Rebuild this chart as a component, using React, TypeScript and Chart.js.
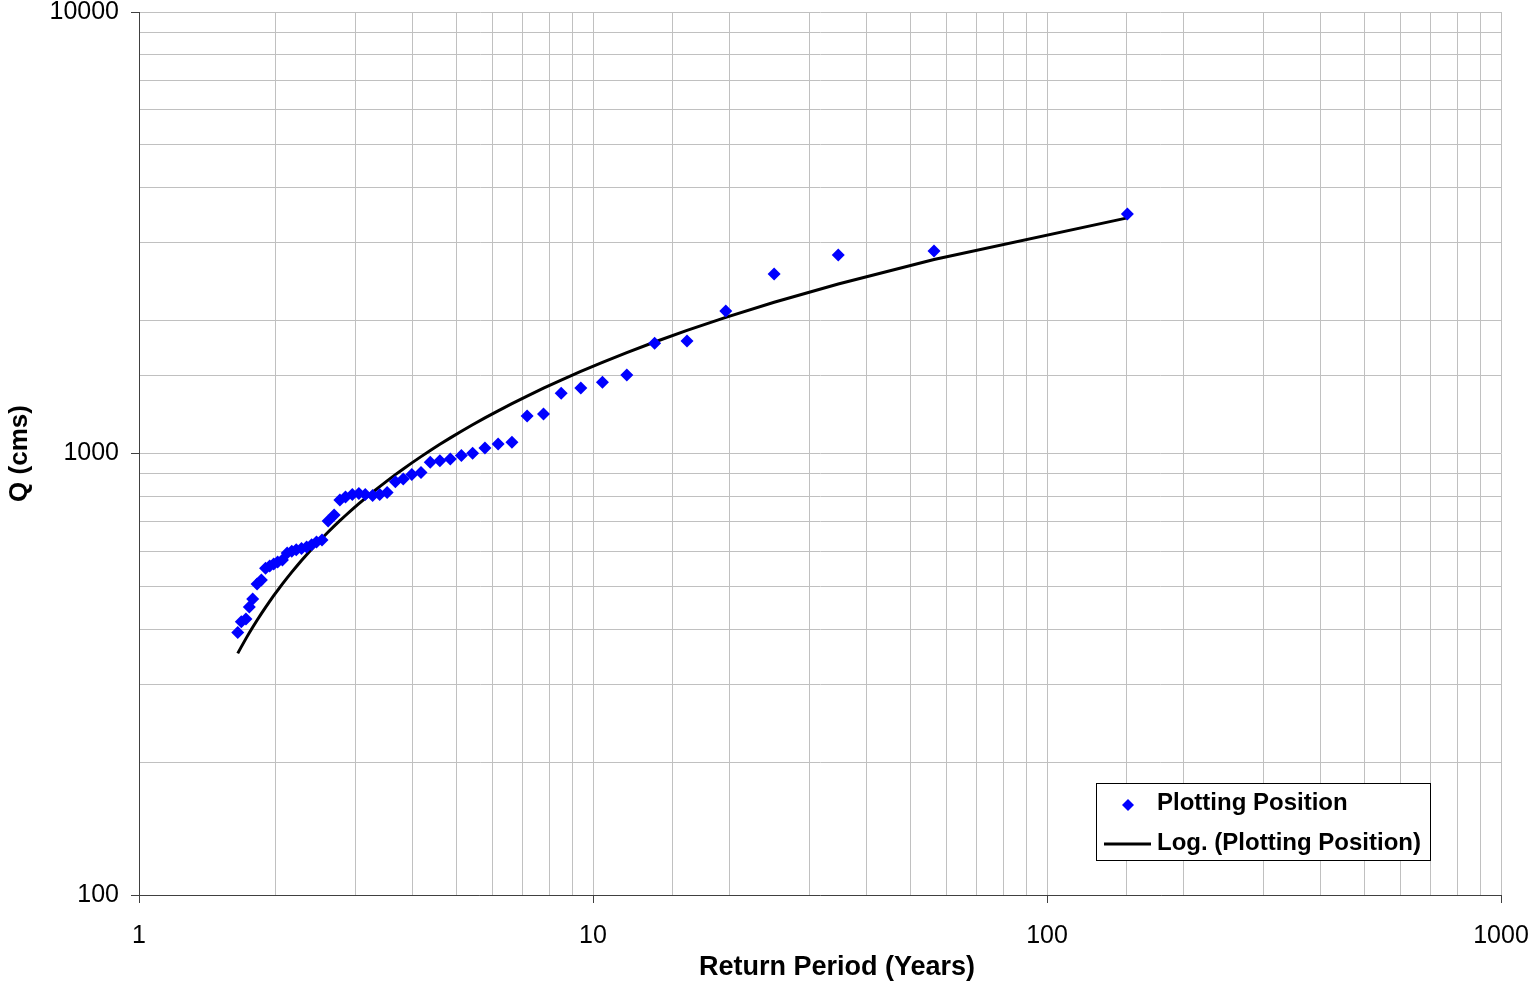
import { useEffect, useRef } from "react";
import { Chart, registerables } from "chart.js";

Chart.register(...registerables);

// Return period (years) of each ranked annual peak, largest flood first
const returnPeriod = [
  150.33, 56.38, 34.69, 25.06, 19.61, 16.11, 13.67, 11.87, 10.49, 9.4,
  8.51, 7.78, 7.16, 6.63, 6.18, 5.78, 5.43, 5.13, 4.85, 4.6,
  4.38, 4.18, 3.99, 3.82, 3.67, 3.52, 3.39, 3.27, 3.15, 3.05,
  2.95, 2.85, 2.77, 2.69, 2.61, 2.53, 2.46, 2.4, 2.34, 2.28,
  2.22, 2.17, 2.12, 2.07, 2.02, 1.98, 1.94, 1.9, 1.86, 1.82,
  1.78, 1.75, 1.72, 1.68, 1.65,
];

// Peak discharge Q (cms) for the same ranks
const discharge = [
  3487, 2875, 2816, 2550, 2103, 1798, 1777, 1506, 1450, 1407,
  1369, 1229, 1216, 1060, 1051, 1029, 1001, 990, 972, 963,
  955, 906, 896, 875, 863, 816, 807, 803, 808, 812,
  807, 797, 785, 726, 703, 637, 630, 621, 614, 609,
  605, 601, 595, 574, 568, 562, 556, 550, 517, 506,
  468, 449, 422, 416, 393,
];

const xTickLabels = [1, 10, 100, 1000];
const yTickLabels = [100, 1000, 10000];

const seriesName = "Plotting Position";
const trendName = "Log. (Plotting Position)";
const xTitle = "Return Period (Years)";
const yTitle = "Q (cms)";

const FONT = '"Liberation Sans", Arial, Helvetica, sans-serif';
const MARKER_BLUE = "#0000FF";
const GRID_GREY = "#c0c0c0";
const AXIS_GREY = "#404040";

// Logarithmic trendline Q = a·ln(T) + b, least-squares fit of the points
function logTrend(xs: number[], ys: number[]) {
  const n = xs.length;
  const lx = xs.map((v) => Math.log(v));
  const mx = lx.reduce((s, v) => s + v, 0) / n;
  const my = ys.reduce((s, v) => s + v, 0) / n;
  let sxy = 0;
  let sxx = 0;
  for (let i = 0; i < n; i++) {
    sxy += (lx[i] - mx) * (ys[i] - my);
    sxx += (lx[i] - mx) * (lx[i] - mx);
  }
  const a = sxy / sxx;
  const b = my - a * mx;
  return [...xs]
    .sort((p, q) => p - q)
    .map((x) => ({ x, y: a * Math.log(x) + b }));
}

const isDecade = (v: number) => Math.abs(Math.log10(v) - Math.round(Math.log10(v))) < 1e-9;

// keep tick labels from pushing the plot area inwards
const fixScaleBox = (s: any, key: "width" | "height", size: number) => {
  s[key] = size;
  s.paddingTop = 0;
  s.paddingBottom = 0;
  s.paddingLeft = 0;
  s.paddingRight = 0;
};

const titlesAndLegend = {
  id: "titlesAndLegend",
  afterDraw(chart: Chart) {
    const ctx = chart.ctx;
    const area = chart.chartArea;
    ctx.save();
    ctx.fillStyle = "#000";
    ctx.textBaseline = "middle";

    // axis titles
    ctx.font = `bold 27px ${FONT}`;
    ctx.textAlign = "center";
    ctx.fillText(xTitle, 837, 968);
    ctx.save();
    ctx.translate(20, (area.top + area.bottom) / 2);
    ctx.rotate(-Math.PI / 2);
    ctx.font = `bold 26px ${FONT}`;
    ctx.fillText(yTitle, 0, 0);
    ctx.restore();

    // legend box
    const bx = 1096;
    const by = 783;
    const bw = 334;
    const bh = 77;
    ctx.fillStyle = "#fff";
    ctx.fillRect(bx, by, bw, bh);
    ctx.strokeStyle = "#000";
    ctx.lineWidth = 1;
    ctx.strokeRect(bx + 0.5, by + 0.5, bw, bh);

    // diamond marker
    const mx = 1128;
    const my = 805;
    const r = 6;
    ctx.fillStyle = MARKER_BLUE;
    ctx.beginPath();
    ctx.moveTo(mx, my - r);
    ctx.lineTo(mx + r, my);
    ctx.lineTo(mx, my + r);
    ctx.lineTo(mx - r, my);
    ctx.closePath();
    ctx.fill();

    // trendline sample
    ctx.strokeStyle = "#000";
    ctx.lineWidth = 3;
    ctx.beginPath();
    ctx.moveTo(1104, 844);
    ctx.lineTo(1151, 844);
    ctx.stroke();

    ctx.fillStyle = "#000";
    ctx.textAlign = "left";
    ctx.font = `bold 24px ${FONT}`;
    ctx.fillText(seriesName, 1157, 803);
    ctx.fillText(trendName, 1157, 843);
    ctx.restore();
  },
};

export default function App() {
  const canvasRef = useRef<HTMLCanvasElement | null>(null);

  useEffect(() => {
    const canvas = canvasRef.current;
    if (!canvas) return;

    const points = returnPeriod.map((x, i) => ({ x, y: discharge[i] }));
    const trend = logTrend(returnPeriod, discharge);

    const tickFont = { family: FONT, size: 25 };

    const chart = new Chart(canvas, {
      type: "scatter",
      data: {
        datasets: [
          {
            label: trendName,
            data: trend,
            showLine: true,
            borderColor: "#000",
            borderWidth: 3,
            pointRadius: 0,
            pointHoverRadius: 0,
            fill: false,
            order: 2,
          },
          {
            label: seriesName,
            data: points,
            pointStyle: "rectRot",
            pointRadius: 6.5,
            pointBackgroundColor: MARKER_BLUE,
            pointBorderColor: MARKER_BLUE,
            pointBorderWidth: 0,
            showLine: false,
            order: 1,
          },
        ],
      },
      options: {
        responsive: false,
        animation: false,
        layout: { padding: { top: 12, right: 33, left: 0, bottom: 0 } },
        plugins: {
          legend: { display: false },
          tooltip: { enabled: false },
          title: { display: false },
        },
        scales: {
          x: {
            type: "logarithmic",
            position: "bottom",
            min: 1,
            max: 1000,
            grid: {
              color: GRID_GREY,
              lineWidth: 1,
              tickLength: 8,
              tickColor: (c: any) => (c.tick && isDecade(c.tick.value) ? AXIS_GREY : "rgba(0,0,0,0)"),
            },
            border: { color: AXIS_GREY, width: 1 },
            ticks: {
              autoSkip: false,
              maxRotation: 0,
              padding: 18,
              color: "#000",
              font: tickFont,
              callback: (v: any) => (xTickLabels.includes(Number(v)) ? String(v) : ""),
            },
            afterFit: (s: any) => fixScaleBox(s, "height", 88),
          },
          y: {
            type: "logarithmic",
            position: "left",
            min: 100,
            max: 10000,
            grid: {
              color: GRID_GREY,
              lineWidth: 1,
              tickLength: 8,
              tickColor: (c: any) => (c.tick && isDecade(c.tick.value) ? AXIS_GREY : "rgba(0,0,0,0)"),
            },
            border: { color: AXIS_GREY, width: 1 },
            ticks: {
              autoSkip: false,
              padding: 12,
              color: "#000",
              font: tickFont,
              callback: (v: any) => (yTickLabels.includes(Number(v)) ? String(v) : ""),
            },
            afterFit: (s: any) => fixScaleBox(s, "width", 139),
          },
        },
      },
      plugins: [titlesAndLegend],
    });

    return () => chart.destroy();
  }, []);

  return (
    <div style={{ position: "fixed", left: 0, top: 0, width: 1534, height: 983, background: "#fff" }}>
      <canvas ref={canvasRef} width={1534} height={983} />
    </div>
  );
}
